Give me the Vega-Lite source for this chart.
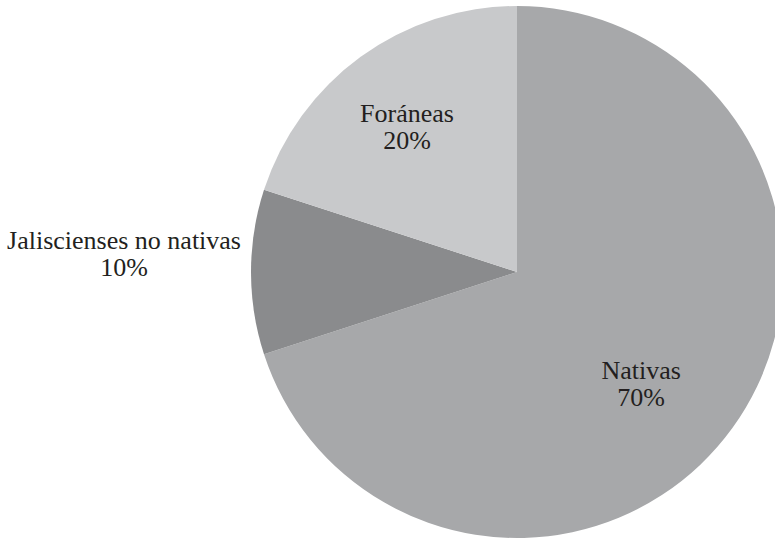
{
  "$schema": "https://vega.github.io/schema/vega-lite/v6.json",
  "width": 516,
  "height": 530,
  "autosize": {"type": "none"},
  "padding": {"left": 259, "top": 7, "right": 0, "bottom": 2},
  "background": "white",
  "view": {"stroke": null},
  "data": {
    "values": [
      {"categoria": "Nativas", "valor": 70, "orden": 1},
      {"categoria": "Jaliscienses no nativas", "valor": 10, "orden": 2},
      {"categoria": "Foráneas", "valor": 20, "orden": 3}
    ]
  },
  "transform": [
    {"stack": "valor", "groupby": [], "sort": [{"field": "orden", "order": "ascending"}], "as": ["ini", "fin"]},
    {"calculate": "(datum.ini + datum.fin) / 2", "as": "medio"},
    {"calculate": "datum.categoria + '\\n' + datum.valor + '%'", "as": "etiqueta"}
  ],
  "layer": [
    {
      "mark": {"type": "arc", "outerRadius": 266, "strokeWidth": 0},
      "encoding": {
        "theta": {"field": "ini", "type": "quantitative", "scale": {"domain": [0, 100]}},
        "theta2": {"field": "fin"},
        "color": {
          "field": "categoria",
          "type": "nominal",
          "scale": {
            "domain": ["Nativas", "Jaliscienses no nativas", "Foráneas"],
            "range": ["#a7a8aa", "#8a8b8d", "#c8c9cb"]
          },
          "legend": null
        }
      }
    },
    {
      "transform": [{"filter": "datum.categoria === 'Nativas'"}],
      "mark": {"type": "text", "radius": 167, "dx": -11, "dy": 1, "font": "Liberation Serif", "fontSize": 26, "lineHeight": 27, "lineBreak": "\n", "color": "#231f20", "align": "center", "baseline": "middle"},
      "encoding": {
        "theta": {"field": "medio", "type": "quantitative", "scale": {"domain": [0, 100]}},
        "text": {"field": "etiqueta", "type": "nominal"}
      }
    },
    {
      "transform": [{"filter": "datum.categoria === 'Foráneas'"}],
      "mark": {"type": "text", "radius": 182, "dx": -3, "dy": -11, "font": "Liberation Serif", "fontSize": 26, "lineHeight": 27, "lineBreak": "\n", "color": "#231f20", "align": "center", "baseline": "middle"},
      "encoding": {
        "theta": {"field": "medio", "type": "quantitative", "scale": {"domain": [0, 100]}},
        "text": {"field": "etiqueta", "type": "nominal"}
      }
    },
    {
      "transform": [{"filter": "datum.categoria === 'Jaliscienses no nativas'"}],
      "mark": {"type": "text", "radius": 393, "dx": 0, "dy": -31, "font": "Liberation Serif", "fontSize": 26, "lineHeight": 27, "lineBreak": "\n", "color": "#231f20", "align": "center", "baseline": "middle"},
      "encoding": {
        "theta": {"field": "medio", "type": "quantitative", "scale": {"domain": [0, 100]}},
        "text": {"field": "etiqueta", "type": "nominal"}
      }
    }
  ]
}
